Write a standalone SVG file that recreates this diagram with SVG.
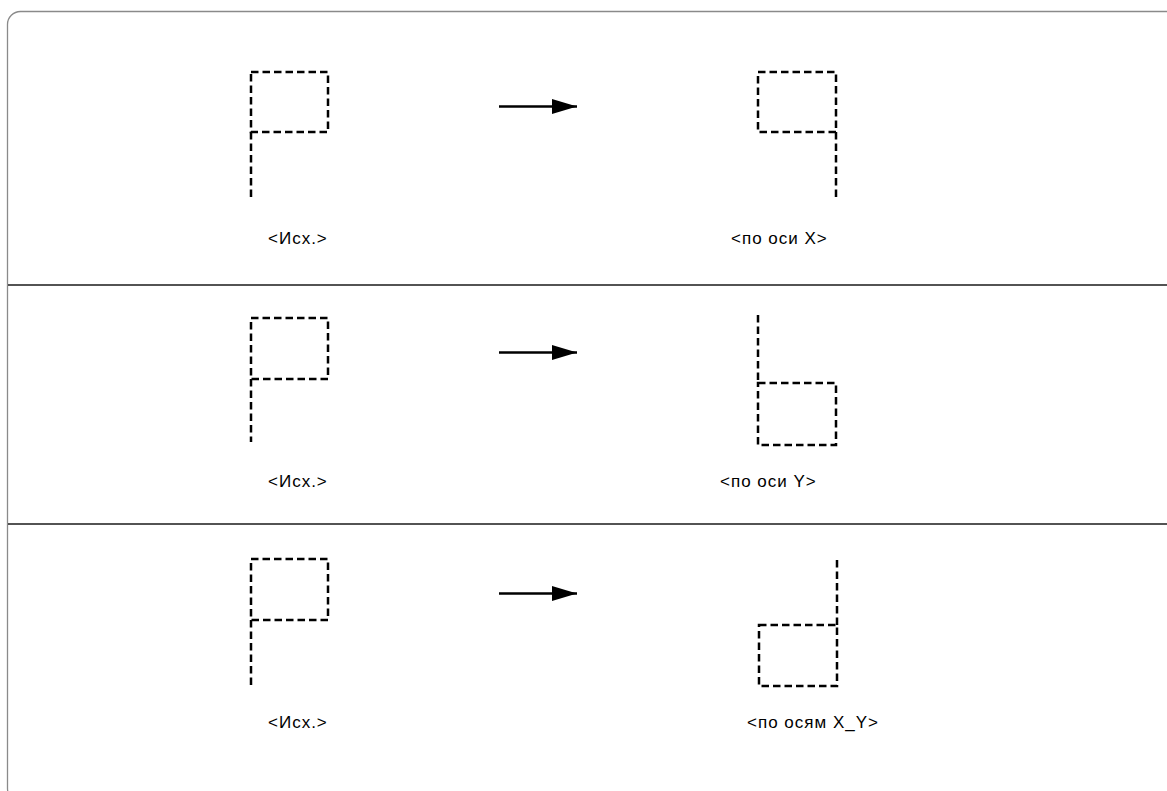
<svg xmlns="http://www.w3.org/2000/svg" width="1167" height="791" viewBox="0 0 1167 791">
<style>
.frame{fill:none;stroke:#8a8a8a;stroke-width:1.3}
.sep{stroke:#1a1a1a;stroke-width:1.3}
.d{fill:none;stroke:#000;stroke-width:2.5;stroke-dasharray:7.5 4}
.arr{stroke:#000;stroke-width:2.6}
.t{font-family:"Liberation Sans",Arial,sans-serif;font-size:17px;letter-spacing:1px;fill:#000}
</style>
<defs>
<marker id="ah" markerUnits="userSpaceOnUse" markerWidth="27" markerHeight="16" refX="25" refY="7.5" orient="auto">
<path d="M0,0 L25,7.5 L0,15 Z" fill="#000"/>
</marker>
</defs>
<rect class="frame" x="7.5" y="11.5" width="1200" height="790" rx="13"/>
<line class="sep" x1="8" y1="285" x2="1167" y2="285"/>
<line class="sep" x1="8" y1="524" x2="1167" y2="524"/>
<g id="row1-src">
<rect class="d" x="251" y="72" width="77" height="60"/>
<line class="d" x1="251" y1="132" x2="251" y2="197"/>
<text class="t" x="268" y="244">&lt;Исх.&gt;</text>
</g>
<g id="row1-dst">
<rect class="d" x="758" y="72" width="78" height="60"/>
<line class="d" x1="836" y1="132" x2="836" y2="200"/>
<text class="t" x="731" y="244">&lt;по оси X&gt;</text>
</g>
<g id="row2-src">
<rect class="d" x="251" y="318" width="77" height="61"/>
<line class="d" x1="251" y1="379" x2="251" y2="442"/>
<text class="t" x="268" y="487">&lt;Исх.&gt;</text>
</g>
<g id="row2-dst">
<line class="d" x1="758" y1="315" x2="758" y2="383"/>
<rect class="d" x="758" y="383" width="78" height="62"/>
<text class="t" x="720" y="487">&lt;по оси Y&gt;</text>
</g>
<g id="row3-src">
<rect class="d" x="251" y="559" width="77" height="61"/>
<line class="d" x1="251" y1="620" x2="251" y2="687"/>
<text class="t" x="268" y="728">&lt;Исх.&gt;</text>
</g>
<g id="row3-dst">
<line class="d" x1="837" y1="560" x2="837" y2="625"/>
<rect class="d" x="759" y="625" width="78" height="61"/>
<text class="t" x="747" y="728">&lt;по осям X_Y&gt;</text>
</g>
<g id="connectors">
<line class="arr" x1="499" y1="106.5" x2="577" y2="106.5" marker-end="url(#ah)"/>
<line class="arr" x1="499" y1="352.5" x2="577" y2="352.5" marker-end="url(#ah)"/>
<line class="arr" x1="499" y1="593.5" x2="577" y2="593.5" marker-end="url(#ah)"/>
</g>
</svg>
